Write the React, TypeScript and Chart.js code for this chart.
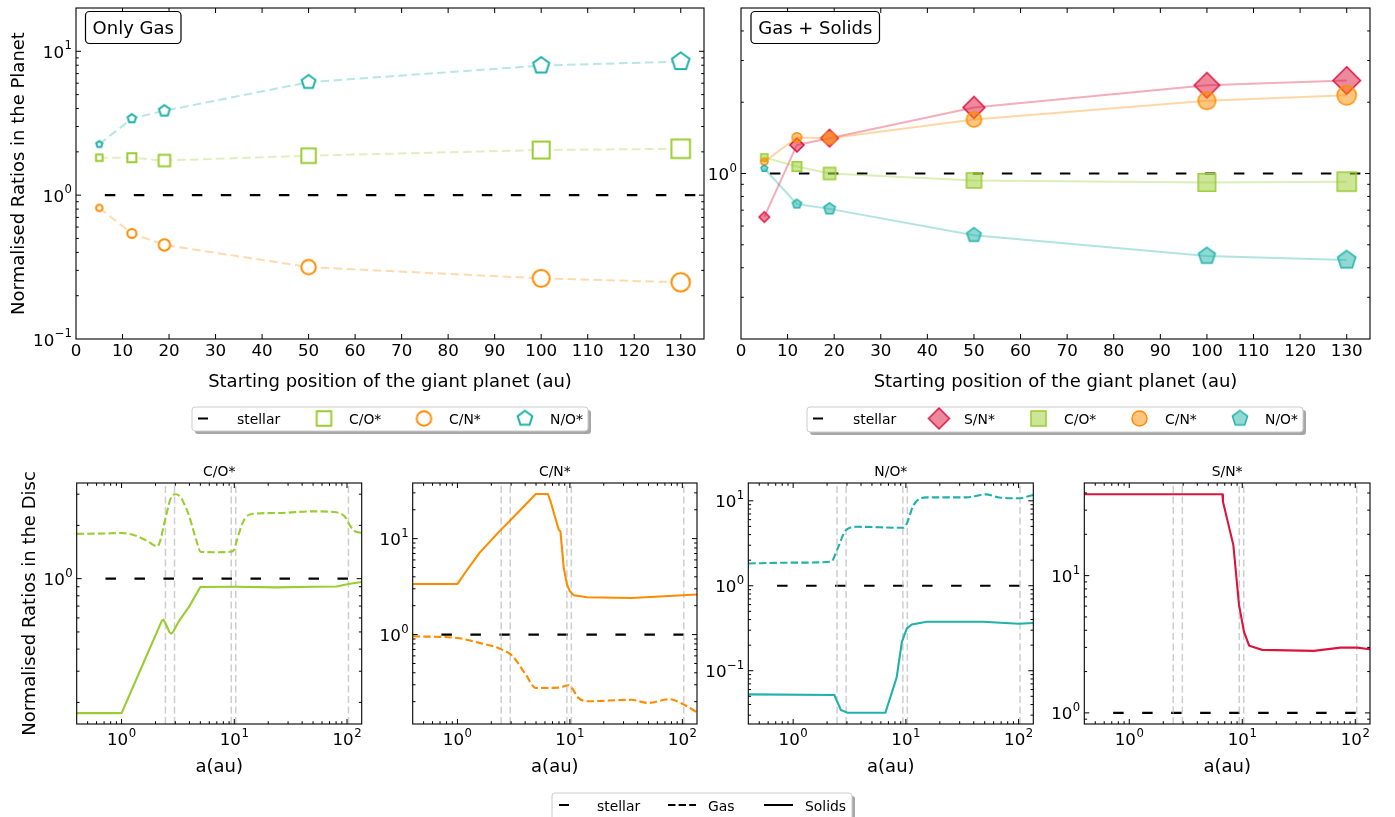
import React, { useEffect, useRef } from 'react';
import { Chart, registerables } from 'chart.js';

Chart.register(...registerables);

const W = 1395;
const H = 817;
const FONT = '"DejaVu Sans", "Liberation Sans", sans-serif';

// ---------------- Top panels: ratios in the planet ----------------
const startPositions = [5, 12, 19, 50, 100, 130];
const onlyGasCO = [1.82, 1.82, 1.74, 1.88, 2.06, 2.1];
const onlyGasCN = [0.815, 0.542, 0.451, 0.316, 0.264, 0.248];
const onlyGasNO = [2.26, 3.41, 3.86, 6.1, 7.96, 8.48];
const gasSolidsSN = [0.655, 1.32, 1.41, 1.9, 2.36, 2.47];
const gasSolidsCO = [1.17, 1.07, 1.0, 0.935, 0.917, 0.924];
const gasSolidsCN = [1.12, 1.42, 1.41, 1.69, 2.03, 2.14];
const gasSolidsNO = [1.05, 0.743, 0.709, 0.549, 0.448, 0.431];
const stellarValue = 1;
const stellarTopX = [6.2, 135];
const topXTickValues = [0, 10, 20, 30, 40, 50, 60, 70, 80, 90, 100, 110, 120, 130];

// ---------------- Bottom panels: ratios in the disc ----------------
const stellarDiscX = [0.72, 135];
const snowlines = [2.45, 2.95, 9.4, 10.3, 103];

const discCOGasA = [0.4, 0.7, 1.0, 1.3, 1.7, 2.07, 2.2, 2.35, 2.54, 2.72, 3.0, 3.3, 3.56, 3.94, 4.36, 4.73, 5.0, 7.0, 9.3, 9.9, 10.3, 11.0, 11.7, 12.5, 14.3, 25, 50, 80, 95, 105, 115, 135];
const discCOGas = [1.79, 1.8, 1.81, 1.76, 1.63, 1.52, 1.63, 1.95, 2.4, 2.83, 3.0, 2.92, 2.68, 2.3, 1.85, 1.56, 1.42, 1.41, 1.42, 1.45, 1.56, 1.8, 2.02, 2.2, 2.32, 2.35, 2.4, 2.37, 2.25, 2.02, 1.87, 1.81];
const discCOSolidA = [0.4, 1.0, 2.28, 2.36, 2.5, 2.65, 2.75, 2.87, 3.2, 4.0, 5.0, 10, 24, 50, 81, 103, 135];
const discCOSolid = [0.174, 0.174, 0.58, 0.585, 0.545, 0.5, 0.489, 0.5, 0.57, 0.7, 0.898, 0.9, 0.893, 0.9, 0.903, 0.933, 0.957];

const discCNGasA = [0.4, 1.0, 1.57, 2.36, 3.09, 4.05, 4.97, 7.96, 9.7, 10.4, 11.9, 14.6, 35, 49.5, 76.8, 97, 135];
const discCNGas = [0.96, 0.92, 0.82, 0.715, 0.596, 0.383, 0.278, 0.28, 0.297, 0.278, 0.219, 0.202, 0.209, 0.194, 0.212, 0.194, 0.155];
const discCNSolidA = [0.4, 1.0, 1.2, 1.57, 2.36, 3.54, 4.97, 6.37, 6.73, 7.96, 8.24, 8.82, 9.43, 10.0, 10.8, 14.2, 35.3, 135];
const discCNSolid = [3.37, 3.37, 4.6, 7.1, 11.9, 19.3, 29.2, 29.2, 24.5, 12.4, 11.9, 4.95, 3.32, 2.83, 2.57, 2.45, 2.41, 2.62];

const discNOGasA = [0.4, 1.0, 2.17, 2.48, 2.94, 3.72, 9.5, 10.2, 11.7, 15.3, 34.3, 51.4, 67, 100, 135];
const discNOGas = [1.83, 1.87, 1.92, 2.75, 4.52, 4.94, 4.81, 5.42, 8.9, 10.96, 10.96, 11.9, 10.96, 10.7, 11.7];
const discNOSolidA = [0.4, 2.32, 2.65, 3.04, 6.58, 8.06, 8.3, 9.22, 10.2, 11.3, 15.3, 48, 100, 135];
const discNOSolid = [0.0527, 0.0518, 0.0345, 0.032, 0.032, 0.0743, 0.085, 0.219, 0.315, 0.351, 0.377, 0.377, 0.357, 0.365];

const discSNSolidA = [0.4, 6.67, 6.75, 8.34, 9.36, 10.35, 11.5, 15.0, 43, 73.9, 103.5, 135];
const discSNSolid = [39.2, 39.2, 34.6, 16.7, 6.12, 3.91, 3.09, 2.88, 2.83, 2.99, 2.99, 2.91];

// ---------------- styles ----------------
const C_CO = '#9acd32';
const C_CN = '#ff8c00';
const C_NO = '#20b2aa';
const C_SN = '#dc143c';
const MARKER_SIZES = [8.5, 11, 13.5, 16.5, 19, 20.5];
const LEG_MARKER = 16.5;
const TICK_FS = 16.7;
const LABEL_FS = 18;
const SMALL_FS = 13.9;

function rgba(hex: string, a: number) {
  const n = parseInt(hex.slice(1), 16);
  return `rgba(${(n >> 16) & 255},${(n >> 8) & 255},${n & 255},${a})`;
}

function makeMarker(shape: string, s: number, fill: string, stroke: string, lw: number) {
  const ext = shape === 'diamond' ? s * Math.SQRT2 : s;
  const dim = Math.ceil(ext + 6);
  const c = document.createElement('canvas');
  c.width = dim;
  c.height = dim;
  const g = c.getContext('2d') as CanvasRenderingContext2D;
  const cx = dim / 2;
  const cy = dim / 2;
  const h = (s - lw) / 2;
  g.beginPath();
  if (shape === 'circle') {
    g.arc(cx, cy, h, 0, Math.PI * 2);
  } else if (shape === 'square') {
    g.rect(cx - h, cy - h, 2 * h, 2 * h);
  } else if (shape === 'diamond') {
    const d = (ext - lw) / 2;
    g.moveTo(cx, cy - d);
    g.lineTo(cx + d, cy);
    g.lineTo(cx, cy + d);
    g.lineTo(cx - d, cy);
    g.closePath();
  } else {
    for (let k = 0; k < 5; k++) {
      const ang = -Math.PI / 2 + (k * 2 * Math.PI) / 5;
      const px = cx + h * Math.cos(ang);
      const py = cy + h * Math.sin(ang);
      if (k === 0) g.moveTo(px, py);
      else g.lineTo(px, py);
    }
    g.closePath();
  }
  g.fillStyle = fill;
  g.fill();
  g.lineWidth = lw;
  g.strokeStyle = stroke;
  g.lineJoin = 'miter';
  g.stroke();
  return c;
}

type Lbl = { v: number; base: string; sup?: string };
type LegItem = { kind: 'line' | 'marker'; x0?: number; x1?: number; dash?: number[]; color?: string; img?: HTMLCanvasElement; cx?: number; label: string; lx: number };
type Legend = { x0: number; y0: number; x1: number; y1: number; cy: number; ty: number; items: LegItem[] };
type AxesCfg = {
  xMajor: Lbl[];
  xMinor: number[];
  yMajor: Lbl[];
  yMinor: number[];
  xLabelDy: number;
  xTitle: string;
  yTitle?: { text: string; x: number };
  title?: string;
  box?: { text: string; x0: number; y0: number; x1: number; y1: number };
  legends?: Legend[];
};

function drawMath(ctx: CanvasRenderingContext2D, base: string, sup: string | undefined, x: number, y: number, align: string) {
  ctx.font = `${TICK_FS}px ${FONT}`;
  const wb = ctx.measureText(base).width;
  let ws = 0;
  if (sup) {
    ctx.font = `${TICK_FS * 0.7}px ${FONT}`;
    ws = ctx.measureText(sup).width + 0.5;
  }
  const tot = wb + ws;
  const x0 = align === 'center' ? x - tot / 2 : x - tot;
  ctx.textAlign = 'left';
  ctx.textBaseline = 'alphabetic';
  ctx.font = `${TICK_FS}px ${FONT}`;
  ctx.fillText(base, x0, y);
  if (sup) {
    ctx.font = `${TICK_FS * 0.7}px ${FONT}`;
    ctx.fillText(sup, x0 + wb + 0.5, y - TICK_FS * 0.5);
  }
}

function roundRect(ctx: CanvasRenderingContext2D, x0: number, y0: number, x1: number, y1: number, r: number) {
  ctx.beginPath();
  ctx.moveTo(x0 + r, y0);
  ctx.lineTo(x1 - r, y0);
  ctx.arcTo(x1, y0, x1, y0 + r, r);
  ctx.lineTo(x1, y1 - r);
  ctx.arcTo(x1, y1, x1 - r, y1, r);
  ctx.lineTo(x0 + r, y1);
  ctx.arcTo(x0, y1, x0, y1 - r, r);
  ctx.lineTo(x0, y0 + r);
  ctx.arcTo(x0, y0, x0 + r, y0, r);
  ctx.closePath();
}

function drawLegend(ctx: CanvasRenderingContext2D, L: Legend) {
  ctx.save();
  ctx.fillStyle = 'rgba(0,0,0,0.35)';
  roundRect(ctx, L.x0 + 3, L.y0 + 3, L.x1 + 3, L.y1 + 3, 3);
  ctx.fill();
  ctx.fillStyle = '#fff';
  roundRect(ctx, L.x0, L.y0, L.x1, L.y1, 3);
  ctx.fill();
  ctx.strokeStyle = '#cccccc';
  ctx.lineWidth = 1;
  ctx.stroke();
  for (const it of L.items) {
    if (it.kind === 'line') {
      ctx.beginPath();
      ctx.setLineDash(it.dash || []);
      ctx.strokeStyle = it.color || '#000';
      ctx.lineWidth = 2;
      ctx.moveTo(it.x0 as number, L.cy);
      ctx.lineTo(it.x1 as number, L.cy);
      ctx.stroke();
      ctx.setLineDash([]);
    } else if (it.img) {
      ctx.drawImage(it.img, (it.cx as number) - it.img.width / 2, L.cy - it.img.height / 2);
    }
    ctx.fillStyle = '#000';
    ctx.font = `${SMALL_FS}px ${FONT}`;
    ctx.textAlign = 'left';
    ctx.textBaseline = 'alphabetic';
    ctx.fillText(it.label, it.lx, L.ty);
  }
  ctx.restore();
}

function axesPlugin(cfg: AxesCfg) {
  return {
    id: 'mplAxes',
    afterDraw(chart: any) {
      const ctx: CanvasRenderingContext2D = chart.ctx;
      const a = chart.chartArea;
      const xs = chart.scales.x;
      const ys = chart.scales.y;
      ctx.save();
      ctx.strokeStyle = '#000';
      ctx.fillStyle = '#000';
      ctx.lineWidth = 1;
      const xt = (v: number, len: number) => {
        const p = xs.getPixelForValue(v);
        if (p < a.left + 0.8 || p > a.right - 0.8) return;
        ctx.beginPath();
        ctx.moveTo(p, a.bottom);
        ctx.lineTo(p, a.bottom - len);
        ctx.moveTo(p, a.top);
        ctx.lineTo(p, a.top + len);
        ctx.stroke();
      };
      const yt = (v: number, len: number) => {
        const p = ys.getPixelForValue(v);
        if (p < a.top + 0.8 || p > a.bottom - 0.8) return;
        ctx.beginPath();
        ctx.moveTo(a.left, p);
        ctx.lineTo(a.left + len, p);
        ctx.moveTo(a.right, p);
        ctx.lineTo(a.right - len, p);
        ctx.stroke();
      };
      cfg.xMinor.forEach((v) => xt(v, 2.8));
      cfg.yMinor.forEach((v) => yt(v, 2.8));
      cfg.xMajor.forEach((l) => xt(l.v, 5));
      cfg.yMajor.forEach((l) => yt(l.v, 5));
      ctx.lineWidth = 1.1;
      ctx.strokeRect(a.left, a.top, a.right - a.left, a.bottom - a.top);

      cfg.xMajor.forEach((l) => {
        const p = xs.getPixelForValue(l.v);
        drawMath(ctx, l.base, l.sup, p, a.bottom + cfg.xLabelDy, 'center');
      });
      cfg.yMajor.forEach((l) => {
        const p = ys.getPixelForValue(l.v);
        drawMath(ctx, l.base, l.sup, a.left - 4, p + 6.5, 'right');
      });

      ctx.font = `${LABEL_FS}px ${FONT}`;
      ctx.textAlign = 'center';
      ctx.textBaseline = 'alphabetic';
      ctx.fillText(cfg.xTitle, (a.left + a.right) / 2, a.bottom + 48);
      if (cfg.yTitle) {
        ctx.save();
        ctx.translate(cfg.yTitle.x, (a.top + a.bottom) / 2);
        ctx.rotate(-Math.PI / 2);
        ctx.fillText(cfg.yTitle.text, 0, 0);
        ctx.restore();
      }
      if (cfg.title) {
        ctx.font = `${SMALL_FS}px ${FONT}`;
        ctx.fillText(cfg.title, (a.left + a.right) / 2, a.top - 7.5);
      }
      if (cfg.box) {
        const b = cfg.box;
        roundRect(ctx, b.x0, b.y0, b.x1, b.y1, 4);
        ctx.fillStyle = '#fff';
        ctx.fill();
        ctx.lineWidth = 1.2;
        ctx.strokeStyle = '#000';
        ctx.stroke();
        ctx.fillStyle = '#000';
        ctx.font = `${LABEL_FS}px ${FONT}`;
        ctx.textAlign = 'center';
        ctx.fillText(b.text, (b.x0 + b.x1) / 2, b.y1 - 10);
      }
      ctx.restore();
      (cfg.legends || []).forEach((L) => drawLegend(ctx, L));
    },
  };
}

function pts(xs: number[], ys: number[]) {
  return xs.map((x, i) => ({ x, y: ys[i] }));
}

function baseOptions(pad: any, xScale: any, yScale: any) {
  return {
    responsive: false,
    animation: false,
    events: [],
    layout: { padding: pad },
    plugins: { legend: { display: false }, tooltip: { enabled: false }, title: { display: false } },
    scales: {
      x: { ...xScale, display: false, bounds: 'data' },
      y: { ...yScale, display: false, bounds: 'data' },
    },
  };
}

const sup = (e: number) => (e < 0 ? '\u2212' + Math.abs(e) : String(e));
const decadeLbl = (exps: number[]): Lbl[] => exps.map((e) => ({ v: Math.pow(10, e), base: '10', sup: sup(e) }));
const minorLog = (lo: number, hi: number) => {
  const out: number[] = [];
  for (let e = -3; e <= 3; e++) for (let m = 2; m <= 9; m++) {
    const v = m * Math.pow(10, e);
    if (v >= lo && v <= hi) out.push(Number(v.toPrecision(3)));
  }
  return out;
};

function buildConfigs() {
  const topXMajor: Lbl[] = topXTickValues.map((v) => ({ v, base: String(v) }));
  const stellarTop = {
    data: pts(stellarTopX, stellarTopX.map(() => stellarValue)),
    borderColor: '#000', borderWidth: 2.2, borderDash: [10.5, 18.5], pointRadius: 0, order: 100,
  };

  const hollow = (shape: string, col: string) => MARKER_SIZES.map((s) => makeMarker(shape, s, '#fff', col, 2));
  const filled = (shape: string, col: string) => MARKER_SIZES.map((s) => makeMarker(shape, s, rgba(col, 0.5), col, 1.5));

  const gasDS = (ys: number[], col: string, shape: string, order: number) => ({
    data: pts(startPositions, ys), borderColor: rgba(col, 0.32), borderWidth: 2, borderDash: [8.5, 4.5],
    pointStyle: hollow(shape, col), pointRadius: 6, order,
  });
  const solDS = (ys: number[], col: string, shape: string, order: number) => ({
    data: pts(startPositions, ys), borderColor: rgba(col, 0.35), borderWidth: 2,
    pointStyle: filled(shape, col), pointRadius: 6, order,
  });

  const legTopLeft: Legend = {
    x0: 192, y0: 407, x1: 588, y1: 431, cy: 418.5, ty: 424,
    items: [
      { kind: 'line', x0: 198, x1: 226, dash: [10, 19], color: '#000', label: 'stellar', lx: 237 },
      { kind: 'marker', img: makeMarker('square', LEG_MARKER, '#fff', C_CO, 2), cx: 324, label: 'C/O*', lx: 349 },
      { kind: 'marker', img: makeMarker('circle', LEG_MARKER, '#fff', C_CN, 2), cx: 424, label: 'C/N*', lx: 449 },
      { kind: 'marker', img: makeMarker('pentagon', LEG_MARKER + 1, '#fff', C_NO, 2), cx: 525, label: 'N/O*', lx: 550 },
    ],
  };
  const legTopRight: Legend = {
    x0: 807, y0: 407, x1: 1303, y1: 432, cy: 418.5, ty: 424,
    items: [
      { kind: 'line', x0: 813, x1: 841, dash: [10, 19], color: '#000', label: 'stellar', lx: 853 },
      { kind: 'marker', img: makeMarker('diamond', 15.8, rgba(C_SN, 0.5), C_SN, 1.5), cx: 939, label: 'S/N*', lx: 964 },
      { kind: 'marker', img: makeMarker('square', LEG_MARKER, rgba(C_CO, 0.5), C_CO, 1.5), cx: 1038.5, label: 'C/O*', lx: 1064 },
      { kind: 'marker', img: makeMarker('circle', LEG_MARKER, rgba(C_CN, 0.5), C_CN, 1.5), cx: 1139.5, label: 'C/N*', lx: 1165 },
      { kind: 'marker', img: makeMarker('pentagon', LEG_MARKER + 1, rgba(C_NO, 0.5), C_NO, 1.5), cx: 1240, label: 'N/O*', lx: 1265 },
    ],
  };
  const legBottom: Legend = {
    x0: 552, y0: 793, x1: 852, y1: 821, cy: 805, ty: 811,
    items: [
      { kind: 'line', x0: 559, x1: 587, dash: [10, 19], color: '#000', label: 'stellar', lx: 597 },
      { kind: 'line', x0: 668, x1: 696, dash: [7.4, 3.2], color: '#000', label: 'Gas', lx: 708 },
      { kind: 'line', x0: 764, x1: 793, dash: [], color: '#000', label: 'Solids', lx: 805 },
    ],
  };

  const topLeft = {
    type: 'line',
    data: {
      datasets: [
        stellarTop,
        gasDS(onlyGasCO, C_CO, 'square', 3),
        gasDS(onlyGasCN, C_CN, 'circle', 2),
        gasDS(onlyGasNO, C_NO, 'pentagon', 1),
      ],
    },
    options: baseOptions({ left: 76, top: 3, right: W - 704, bottom: H - 339 }, { type: 'linear', min: 0, max: 135 }, { type: 'logarithmic', min: 0.1, max: 20 }),
    plugins: [axesPlugin({
      xMajor: topXMajor, xMinor: [], yMajor: decadeLbl([-1, 0, 1]), yMinor: minorLog(0.1, 20), xLabelDy: 17,
      xTitle: 'Starting position of the giant planet (au)', yTitle: { text: 'Normalised Ratios in the Planet', x: 24 },
      box: { text: 'Only Gas', x0: 85.5, y0: 11.5, x1: 181, y1: 43.5 }, legends: [legTopLeft],
    })],
  };

  const topRight = {
    type: 'line',
    data: {
      datasets: [
        stellarTop,
        solDS(gasSolidsSN, C_SN, 'diamond', 4),
        solDS(gasSolidsCO, C_CO, 'square', 3),
        solDS(gasSolidsCN, C_CN, 'circle', 2),
        solDS(gasSolidsNO, C_NO, 'pentagon', 1),
      ],
    },
    options: baseOptions({ left: 741, top: 3, right: W - 1370, bottom: H - 339 }, { type: 'linear', min: 0, max: 135 }, { type: 'logarithmic', min: 0.2, max: 5 }),
    plugins: [axesPlugin({
      xMajor: topXMajor, xMinor: [], yMajor: decadeLbl([0]), yMinor: minorLog(0.2, 5), xLabelDy: 17,
      xTitle: 'Starting position of the giant planet (au)',
      box: { text: 'Gas + Solids', x0: 751, y0: 11.5, x1: 879.5, y1: 43.5 }, legends: [legTopRight],
    })],
  };

  const discXMajor = decadeLbl([0, 1, 2]);
  const discXMinor = minorLog(0.4, 135);
  const disc = (left: number, right: number, yMin: number, yMax: number, yExps: number[], title: string, curves: any[], extra: Partial<AxesCfg>) => ({
    type: 'line',
    data: {
      datasets: [
        {
          data: pts(stellarDiscX, stellarDiscX.map(() => stellarValue)),
          borderColor: '#000', borderWidth: 2.2, borderDash: [10.5, 18.5], pointRadius: 0, order: 100,
        },
        ...snowlines.map((s) => ({
          data: [{ x: s, y: yMin }, { x: s, y: yMax }],
          borderColor: 'rgba(185,185,185,0.7)', borderWidth: 1.5, borderDash: [7, 3.5], pointRadius: 0, order: 90,
        })),
        ...curves,
      ],
    },
    options: baseOptions({ left, top: 483, right: W - right, bottom: H - 724 }, { type: 'logarithmic', min: 0.4, max: 135 }, { type: 'logarithmic', min: yMin, max: yMax }),
    plugins: [axesPlugin({
      xMajor: discXMajor, xMinor: discXMinor, yMajor: decadeLbl(yExps), yMinor: minorLog(yMin, yMax), xLabelDy: 21,
      xTitle: 'a(au)', title, ...extra,
    })],
  });
  const gasCurve = (a: number[], v: number[], col: string) => ({
    data: pts(a, v), borderColor: col, borderWidth: 2.1, borderDash: [7.4, 3.2], pointRadius: 0, cubicInterpolationMode: 'monotone', order: 2,
  });
  const solidCurve = (a: number[], v: number[], col: string) => ({
    data: pts(a, v), borderColor: col, borderWidth: 2.1, pointRadius: 0, tension: 0, order: 1,
  });

  const p1 = disc(76.7, 361.7, 0.151, 3.47, [0], 'C/O*', [gasCurve(discCOGasA, discCOGas, C_CO), solidCurve(discCOSolidA, discCOSolid, C_CO)],
    { yTitle: { text: 'Normalised Ratios in the Disc', x: 34.5 }, legends: [legBottom] });
  const p2 = disc(412.7, 697, 0.117, 38, [0, 1], 'C/N*', [gasCurve(discCNGasA, discCNGas, C_CN), solidCurve(discCNSolidA, discCNSolid, C_CN)], {});
  const p3 = disc(748.3, 1033.3, 0.0236, 16.2, [-1, 0, 1], 'N/O*', [gasCurve(discNOGasA, discNOGas, C_NO), solidCurve(discNOSolidA, discNOSolid, C_NO)], {});
  const p4 = disc(1084.3, 1370, 0.83, 47.3, [0, 1], 'S/N*', [solidCurve(discSNSolidA, discSNSolid, C_SN)], {});

  return [topLeft, topRight, p1, p2, p3, p4];
}

export default function App() {
  const holder = useRef<HTMLDivElement>(null);
  useEffect(() => {
    const host = holder.current as HTMLDivElement;
    const cfgs = buildConfigs();
    const charts: Chart[] = [];
    const canvases: HTMLCanvasElement[] = [];
    cfgs.forEach((cfg) => {
      const cv = document.createElement('canvas');
      cv.width = W;
      cv.height = H;
      cv.style.position = 'absolute';
      cv.style.left = '0px';
      cv.style.top = '0px';
      host.appendChild(cv);
      canvases.push(cv);
      charts.push(new Chart(cv, cfg as any));
    });
    return () => {
      charts.forEach((c) => c.destroy());
      canvases.forEach((c) => c.remove());
    };
  }, []);
  return (
    <div
      ref={holder}
      style={{ position: 'absolute', left: 0, top: 0, width: W, height: H, background: '#fff', overflow: 'hidden' }}
    />
  );
}
